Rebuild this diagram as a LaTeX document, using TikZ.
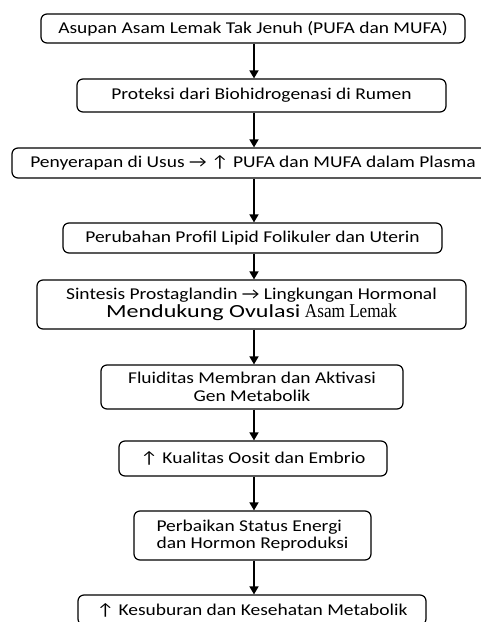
\documentclass[tikz,border=0pt]{standalone}
\usepackage{fontspec}
\setmainfont[FakeStretch=1.18]{Carlito}
\newfontfamily\widefont[FakeStretch=1.3]{Carlito}
\newfontfamily\asamfont[FakeStretch=0.88]{Liberation Serif}
\usetikzlibrary{arrows.meta, positioning}

\begin{document}
\begin{tikzpicture}[x=1pt, y=-1pt, font=\fontsize{16.5}{17.5}\selectfont,
    flowbox/.style={draw, line width=1.2pt, rounded corners=6pt, inner sep=0pt, align=center},
    flowarrow/.style={-{Triangle[length=8pt,width=9pt]}, line width=1.5pt}]
    \useasboundingbox (0,0) rectangle (481,622);
    \coordinate (col) at (254,0);
    % boxes, top to bottom
    \node[flowbox, minimum width=424pt, minimum height=29pt] (asupan) at (253,28.5) {Asupan Asam Lemak Tak Jenuh (PUFA dan MUFA)};
    \node[flowbox, minimum width=369pt, minimum height=33pt] (proteksi) at (261.5,95.5) {Proteksi dari Biohidrogenasi di Rumen};
    \node[flowbox, minimum width=482pt, minimum height=30pt] (serapan) at (253,163) {Penyerapan di Usus → ↑ PUFA dan MUFA dalam Plasma};
    \node[flowbox, minimum width=379pt, minimum height=30pt] (profil) at (252.5,238) {Perubahan Profil Lipid Folikuler dan Uterin};
    \node[flowbox, minimum width=429pt, minimum height=49pt] (sintesis) at (251.5,304.5) {Sintesis Prostaglandin → Lingkungan Hormonal\\{\widefont\fontsize{18.5}{17.5}\selectfont Mendukung Ovulasi} {\asamfont\fontsize{19.5}{17.5}\selectfont Asam Lemak}};
    \node[flowbox, minimum width=302pt, minimum height=44pt] (fluiditas) at (252,387) {Fluiditas Membran dan Aktivasi\\Gen Metabolik};
    \node[flowbox, minimum width=268pt, minimum height=35pt] (kualitas) at (253,458.5) {↑ Kualitas Oosit dan Embrio};
    \node[flowbox, minimum width=237pt, minimum height=49pt, align=left] (perbaikan) at (252.5,535.5) {Perbaikan Status Energi\\dan Hormon Reproduksi};
    \node[flowbox, minimum width=348pt, minimum height=30pt] (kesuburan) at (252,610) {↑ Kesuburan dan Kesehatan Metabolik};
    % connectors
    \foreach \a/\b in {asupan/proteksi, proteksi/serapan, serapan/profil, profil/sintesis,
        sintesis/fluiditas, fluiditas/kualitas, kualitas/perbaikan, perbaikan/kesuburan}
        {\draw[flowarrow] (col |- \a.south) -- (col |- \b.north);}
\end{tikzpicture}
\end{document}
